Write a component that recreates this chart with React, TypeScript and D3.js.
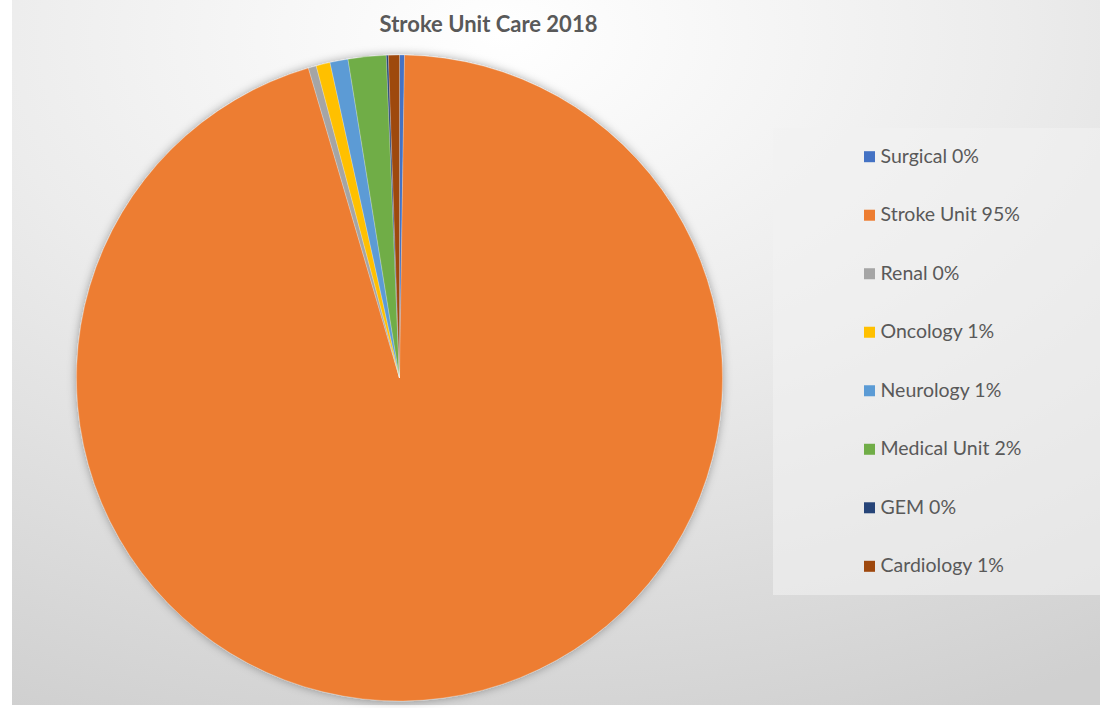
import React from "react";
import * as d3 from "d3";

const categories = ["Surgical", "Stroke Unit", "Renal", "Oncology", "Neurology", "Medical Unit", "GEM", "Cardiology"];
const values = [0.25, 95.2, 0.4, 0.7, 0.9, 1.9, 0.1, 0.55];
const legendLabels = ["Surgical 0%", "Stroke Unit 95%", "Renal 0%", "Oncology 1%", "Neurology 1%", "Medical Unit 2%", "GEM 0%", "Cardiology 1%"];
const colors = ["#4472C4", "#ED7D31", "#A5A5A5", "#FFC000", "#5B9BD5", "#70AD47", "#264478", "#9E480E"];
const title = "Stroke Unit Care 2018";

export default function App() {
  const W = 1100, H = 708;
  const cx = 399.5, cy = 378, r = 323;
  const data = categories.map((c, i) => ({ c, v: values[i], color: colors[i], label: legendLabels[i] }));
  const pie = d3.pie<any>().value((d: any) => d.v).sort(null);
  const arc = d3.arc<any>().innerRadius(0).outerRadius(r);
  const arcs = pie(data);
  const legendY = d3.scalePoint<number>().domain(d3.range(data.length)).range([162.7, 572.3]);
  const font = "Lato, 'Open Sans', sans-serif";
  return (
    <svg width={W} height={H} style={{ position: "absolute", left: 0, top: 0, display: "block" }}>
      <defs>
        <radialGradient id="bg" cx="0.45" cy="0.05" r="1.05" fx="0.45" fy="0.05">
          <stop offset="0" stopColor="#ffffff" />
          <stop offset="0.45" stopColor="#ececec" />
          <stop offset="1" stopColor="#d0d0d0" />
        </radialGradient>
        <filter id="sh" x="-10%" y="-10%" width="120%" height="120%">
          <feDropShadow dx="0" dy="0" stdDeviation="5" floodColor="#000" floodOpacity="0.35" />
        </filter>
      </defs>
      <rect x={0} y={0} width={W} height={H} fill="#ffffff" />
      <rect x={12} y={0} width={W - 12} height={705} fill="url(#bg)" />
      <rect x={773} y={128} width={327} height={467} fill="#f2f2f2" opacity={0.6} />
      <text x={488.5} y={32} textAnchor="middle" fontFamily={font} fontWeight="bold" fontSize={22} fill="#595959">{title}</text>
      <g transform={`translate(${cx},${cy})`} filter="url(#sh)">
        {arcs.map((a, i) => (
          <path key={i} d={arc(a) as string} fill={a.data.color} stroke="#ffffff" strokeWidth={0.4} strokeOpacity={0.6} />
        ))}
      </g>
      <g>
        {data.map((d, i) => (
          <g key={i} transform={`translate(864,${legendY(i)})`}>
            <rect x={0} y={-11.5} width={11} height={11} fill={d.color} />
            <text x={16.5} y={0} fontFamily={font} fontSize={19.5} fill="#595959">{d.label}</text>
          </g>
        ))}
      </g>
    </svg>
  );
}
